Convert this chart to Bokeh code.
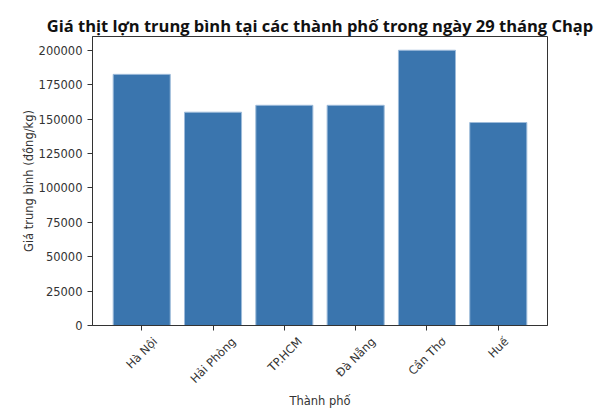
from bokeh.plotting import figure
from bokeh.models import (Range1d, FixedTicker, BasicTickFormatter,
                          ColumnDataSource, LinearAxis)
from bokeh.embed import file_html
from bokeh.resources import INLINE
import math

cities = ["Hà Nội", "Hải Phòng", "TP.HCM", "Đà Nẵng", "Cần Thơ", "Huế"]
prices = [182500, 155000, 160000, 160000, 200000, 147500]
y_ticks = [0, 25000, 50000, 75000, 100000, 125000, 150000, 175000, 200000]

title = "Giá thịt lợn trung bình tại các thành phố trong ngày 29 tháng Chạp"
x_label = "Thành phố"
y_label = "Giá trung bình (đồng/kg)"

# layout helpers (estimated rendered widths of the tick labels, px at 11.5px DejaVu Sans)
label_px = [38.2, 58.4, 44.2, 49.8, 47.6, 23.0]

W, H = 615, 410
B_L, B_R, B_T, B_B = 92, 68, 36, 85
PAD = 0.69  # matplotlib-style x margin (category units)

idx = list(range(len(cities)))
src = ColumnDataSource(dict(x=idx, city=cities, price=prices))

p = figure(
    width=W, height=H,
    x_range=Range1d(-PAD, len(cities) - 1 + PAD),
    y_range=Range1d(0, 210000),
    output_backend="svg", toolbar_location=None,
    x_axis_type=None,
    min_border_left=B_L, min_border_right=B_R, min_border_top=B_T, min_border_bottom=B_B,
)

p.vbar(x="x", top="price", width=0.8, source=src,
       fill_color="#3A75AE", line_color="#9DBBDA", line_width=1)

p.title.text = title
p.title.align = "center"
p.title.text_font = "Open Sans"
p.title.text_font_style = "bold"
p.title.text_font_size = "16.5px"
p.title.text_color = "#111111"
p.title.offset = 0
p.title.standoff = 0

p.xgrid.visible = False
p.ygrid.visible = False
p.outline_line_color = "#333333"
p.outline_line_width = 1

def style(ax):
    ax.axis_line_color = "#333333"
    ax.major_tick_line_color = "#333333"
    ax.major_tick_out = 5
    ax.major_tick_in = 0
    ax.minor_tick_line_color = None
    ax.major_label_text_font = "DejaVu Sans"
    ax.major_label_text_font_size = "11.5px"
    ax.major_label_text_color = "#333333"
    ax.axis_label_text_font = "DejaVu Sans"
    ax.axis_label_text_font_size = "11.5px"
    ax.axis_label_text_font_style = "normal"
    ax.axis_label_text_color = "#333333"

style(p.yaxis[0])
p.yaxis.ticker = FixedTicker(ticks=y_ticks)
p.yaxis.formatter = BasicTickFormatter(use_scientific=False)
p.yaxis.axis_label = y_label
p.yaxis.axis_label_standoff = 0

# x axis: visible tick marks (as minor ticks) at each bar; rotated labels centred
# under each tick (matplotlib style) placed through shifted, invisible major ticks
px_per_unit = (W - B_L - B_R) / (len(cities) - 1 + 2 * PAD)
pos = [i + (w / 2) * math.sqrt(0.5) / px_per_unit for i, w in zip(idx, label_px)]
x_axis = LinearAxis(ticker=FixedTicker(ticks=pos, minor_ticks=idx),
                    major_label_overrides={v: c for v, c in zip(pos, cities)})
style(x_axis)
x_axis.major_tick_line_color = None
x_axis.minor_tick_line_color = "#333333"
x_axis.minor_tick_out = 5
x_axis.minor_tick_in = 0
x_axis.major_label_standoff = 9
x_axis.major_label_orientation = math.pi / 4
x_axis.axis_label = x_label
x_axis.axis_label_standoff = 0
p.add_layout(x_axis, "below")

open("out.html", "w").write(file_html(p, INLINE))
